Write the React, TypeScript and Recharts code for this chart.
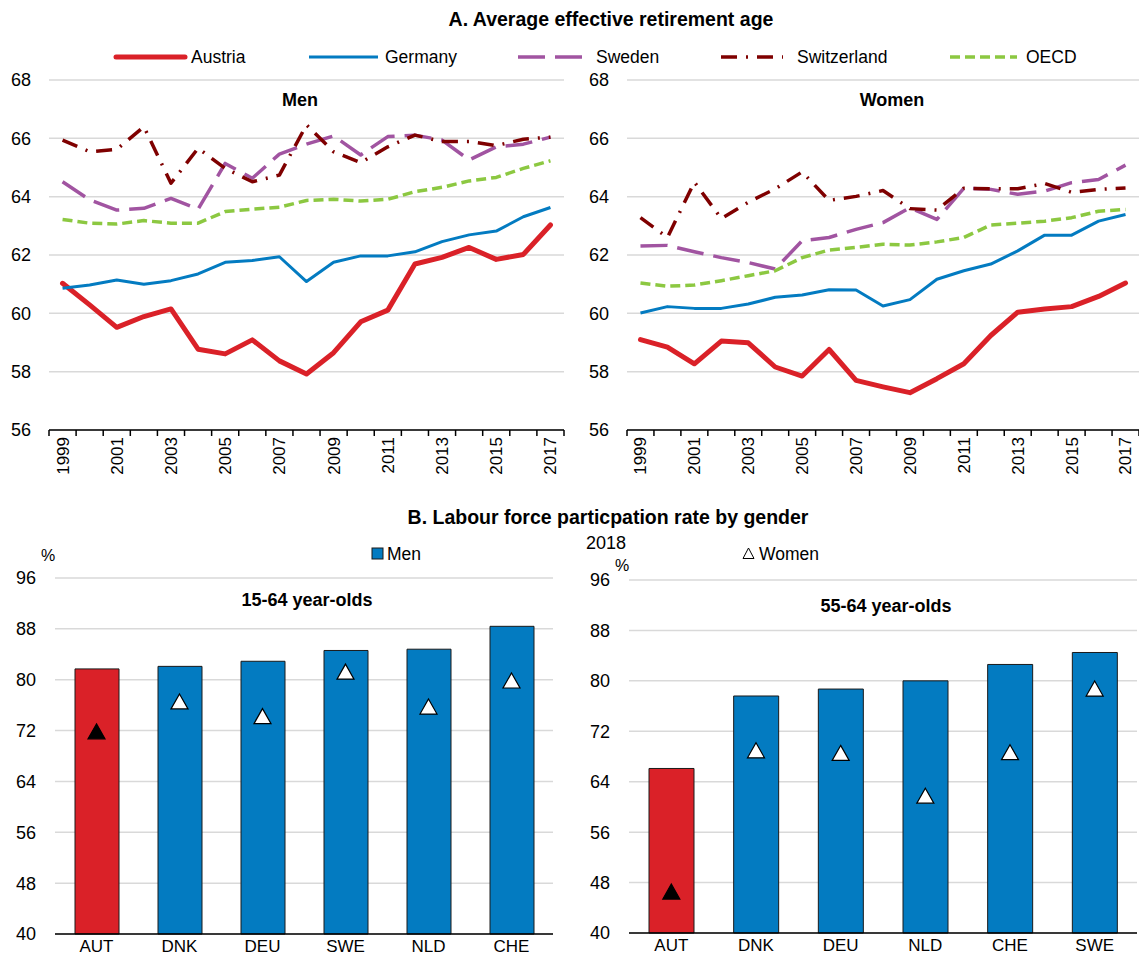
import React from "react";
import {
	Bar,
	CartesianGrid,
	Cell,
	ComposedChart,
	Line,
	LineChart,
	XAxis,
	YAxis,
} from "recharts";

const FONT = '"Liberation Sans", Arial, Helvetica, sans-serif';

// Panel A: average effective retirement age
const years = [
	1999, 2000, 2001, 2002, 2003, 2004, 2005, 2006, 2007, 2008, 2009, 2010,
	2011, 2012, 2013, 2014, 2015, 2016, 2017,
];

const menAustria = [
	61.03, 60.29, 59.52, 59.89, 60.15, 58.77, 58.61, 59.09, 58.37, 57.92, 58.65,
	59.71, 60.11, 61.69, 61.92, 62.26, 61.85, 62.02, 63.03,
];
const menGermany = [
	60.86, 60.97, 61.14, 61.0, 61.12, 61.35, 61.75, 61.81, 61.94, 61.09, 61.75,
	61.97, 61.97, 62.11, 62.46, 62.69, 62.82, 63.31, 63.63,
];
const menSweden = [
	64.51, 63.89, 63.54, 63.6, 63.94, 63.57, 65.14, 64.63, 65.46, 65.8, 66.08,
	65.43, 66.06, 66.11, 65.94, 65.26, 65.71, 65.8, 66.04,
];
const menSwitzerland = [
	65.94, 65.54, 65.62, 66.4, 64.46, 65.66, 64.97, 64.51, 64.74, 66.46, 65.54,
	65.17, 65.71, 66.11, 65.89, 65.89, 65.75, 65.97, 66.04,
];
const menOecd = [
	63.22, 63.09, 63.06, 63.18, 63.09, 63.09, 63.49, 63.57, 63.64, 63.87, 63.91,
	63.85, 63.91, 64.17, 64.32, 64.54, 64.66, 64.97, 65.23,
];

const womenAustria = [
	59.1, 58.84, 58.27, 59.05, 58.99, 58.16, 57.85, 58.76, 57.7, 57.48, 57.28,
	57.76, 58.27, 59.24, 60.04, 60.15, 60.23, 60.58, 61.04,
];
const womenGermany = [
	60.01, 60.23, 60.17, 60.17, 60.32, 60.55, 60.63, 60.81, 60.8, 60.25, 60.47,
	61.17, 61.46, 61.69, 62.14, 62.68, 62.68, 63.16, 63.39,
];
const womenSweden = [
	62.31, 62.33, 62.11, 61.91, 61.74, 61.52, 62.49, 62.6, 62.88, 63.11, 63.62,
	63.22, 64.29, 64.25, 64.08, 64.19, 64.48, 64.59, 65.08,
];
const womenSwitzerland = [
	63.28, 62.6, 64.5, 63.25, 63.81, 64.27, 64.85, 63.87, 64.01, 64.21, 63.59,
	63.54, 64.29, 64.27, 64.27, 64.45, 64.15, 64.25, 64.3,
];
const womenOecd = [
	61.04, 60.93, 60.97, 61.12, 61.29, 61.46, 61.91, 62.17, 62.26, 62.37, 62.34,
	62.45, 62.6, 63.03, 63.09, 63.16, 63.28, 63.5, 63.56,
];

const ageTicks = [56, 58, 60, 62, 64, 66, 68];

// Panel B: labour force participation rate, 2018
const countriesYoung = ["AUT", "DNK", "DEU", "SWE", "NLD", "CHE"];
const menYoung = [81.7, 82.1, 82.9, 84.6, 84.8, 88.4];
const womenYoung = [71.8, 76.5, 74.2, 81.2, 75.7, 79.8];

const countriesOld = ["AUT", "DNK", "DEU", "NLD", "CHE", "SWE"];
const menOld = [66.1, 77.6, 78.7, 80.0, 82.6, 84.5];
const womenOld = [46.5, 68.9, 68.5, 61.7, 68.6, 78.7];

const rateTicks = [40, 48, 56, 64, 72, 80, 88, 96];

const series = [
	{ key: "Austria", color: "#DA2128", width: 5, dash: undefined, men: menAustria, women: womenAustria },
	{ key: "Germany", color: "#037BC1", width: 3, dash: undefined, men: menGermany, women: womenGermany },
	{ key: "Sweden", color: "#A154A1", width: 3.5, dash: "27 10", men: menSweden, women: womenSweden },
	{ key: "Switzerland", color: "#7F0000", width: 3.5, dash: "16 9 2 9", men: menSwitzerland, women: womenSwitzerland },
	{ key: "OECD", color: "#8CC841", width: 3.5, dash: "10 5", men: menOecd, women: womenOecd },
];

const menRows = years.map((year, i) => {
	const row: Record<string, number> = { year };
	series.forEach((s) => (row[s.key] = s.men[i]));
	return row;
});
const womenRows = years.map((year, i) => {
	const row: Record<string, number> = { year };
	series.forEach((s) => (row[s.key] = s.women[i]));
	return row;
});
const youngRows = countriesYoung.map((country, i) => ({
	country,
	men: menYoung[i],
	women: womenYoung[i],
}));
const oldRows = countriesOld.map((country, i) => ({
	country,
	men: menOld[i],
	women: womenOld[i],
}));

// legend sample positions (x start, x end, text x)
const legendSlots = [
	[116, 185, 191],
	[309, 378, 385],
	[518, 590, 596],
	[721, 783, 797],
	[950, 1017, 1026],
];

const makeYearTick = (band: number) => (props: any) => {
	const { x, y, payload, index } = props;
	const half = band / 2;
	return (
		<g>
			<line x1={x - half} x2={x - half} y1={y} y2={y + 6} stroke="#000" strokeWidth={1.5} />
			{index === years.length - 1 && (
				<line x1={x + half} x2={x + half} y1={y} y2={y + 6} stroke="#000" strokeWidth={1.5} />
			)}
			{payload.value % 2 === 1 && (
				<text
					transform={`translate(${x},${y + 7}) rotate(-90)`}
					textAnchor="end"
					dy="0.35em"
					fontSize={17}
					fill="#000"
				>
					{payload.value}
				</text>
			)}
		</g>
	);
};

const renderTriangle = (props: any) => {
	const { cx, cy, index, payload } = props;
	const dark = payload.country === "AUT";
	return (
		<path
			key={`tri-${index}`}
			d={`M${cx},${cy - 8}L${cx + 8.5},${cy + 7}L${cx - 8.5},${cy + 7}Z`}
			fill={dark ? "#000" : "#fff"}
			stroke="#000"
			strokeWidth={1.2}
		/>
	);
};

const AgePanel: React.FC<{ rows: Record<string, number>[]; width: number; yWidth: number; right: number }> = ({
	rows,
	width,
	yWidth,
	right,
}) => {
	const band = (width - yWidth - right) / years.length;
	return (
		<LineChart width={width} height={420} data={rows} margin={{ top: 10, right, bottom: 0, left: 0 }}>
			<CartesianGrid horizontal vertical={false} stroke="#D9D9D9" strokeWidth={1.5} />
			<XAxis
				dataKey="year"
				interval={0}
				height={60}
				tickLine={false}
				tickSize={0}
				tickMargin={0}
				padding={{ left: band / 2, right: band / 2 }}
				axisLine={{ stroke: "#000", strokeWidth: 1.5 }}
				tick={makeYearTick(band)}
			/>
			<YAxis
				width={yWidth}
				domain={[56, 68]}
				ticks={ageTicks}
				interval={0}
				axisLine={false}
				tickLine={false}
				tickSize={0}
				tickMargin={18}
				tick={{ fill: "#000", fontSize: 18 }}
			/>
			{series.map((s) => (
				<Line
					key={s.key}
					dataKey={s.key}
					stroke={s.color}
					strokeWidth={s.width}
					strokeDasharray={s.dash}
					strokeLinecap={s.key === "Austria" ? "round" : "butt"}
					strokeLinejoin="round"
					dot={false}
					activeDot={false}
					isAnimationActive={false}
				/>
			))}
		</LineChart>
	);
};

const RatePanel: React.FC<{
	rows: any[];
	height: number;
	plotHeight: number;
	yWidth: number;
	right: number;
	barSize: number;
}> = ({ rows, height, plotHeight, yWidth, right, barSize }) => (
	<ComposedChart width={570} height={height} data={rows} margin={{ top: 10, right, bottom: 0, left: 0 }}>
		<CartesianGrid horizontal vertical={false} stroke="#D9D9D9" strokeWidth={1.5} />
		<XAxis
			dataKey="country"
			interval={0}
			height={height - 10 - plotHeight}
			tickLine={false}
			tickSize={0}
			tickMargin={6}
			axisLine={{ stroke: "#000", strokeWidth: 1.5 }}
			tick={{ fill: "#000", fontSize: 17 }}
		/>
		<YAxis
			width={yWidth}
			domain={[40, 96]}
			ticks={rateTicks}
			interval={0}
			axisLine={false}
			tickLine={false}
			tickSize={0}
			tickMargin={19}
			tick={{ fill: "#000", fontSize: 18 }}
		/>
		<Bar dataKey="men" barSize={barSize} stroke="#1a1a1a" strokeWidth={1} isAnimationActive={false}>
			{rows.map((r) => (
				<Cell key={r.country} fill={r.country === "AUT" ? "#DA2128" : "#037BC1"} />
			))}
		</Bar>
		<Line
			dataKey="women"
			stroke="none"
			dot={renderTriangle}
			activeDot={false}
			isAnimationActive={false}
		/>
	</ComposedChart>
);

const App: React.FC = () => (
	<div
		style={{
			position: "absolute",
			left: 0,
			top: 0,
			width: 1139,
			height: 957,
			overflow: "hidden",
			background: "#fff",
			fontFamily: FONT,
		}}
	>
		<div style={{ position: "absolute", left: 0, top: 70 }}>
			<AgePanel rows={menRows} width={570} yWidth={49} right={6} />
		</div>
		<div style={{ position: "absolute", left: 570, top: 70 }}>
			<AgePanel rows={womenRows} width={569} yWidth={57} right={0} />
		</div>
		<div style={{ position: "absolute", left: 0, top: 568 }}>
			<RatePanel rows={youngRows} height={389} plotHeight={356} yWidth={55} right={17} barSize={44} />
		</div>
		<div style={{ position: "absolute", left: 570, top: 570 }}>
			<RatePanel rows={oldRows} height={387} plotHeight={353} yWidth={59} right={3} barSize={45} />
		</div>
		<svg
			width={1139}
			height={957}
			style={{ position: "absolute", left: 0, top: 0, pointerEvents: "none" }}
			fontFamily={FONT}
		>
			<text x={611} y={26} textAnchor="middle" fontSize={19.5} fontWeight="bold">
				A. Average effective retirement age
			</text>
			{series.map((s, i) => {
				const [x1, x2, tx] = legendSlots[i];
				return (
					<g key={s.key}>
						<line
							x1={x1}
							x2={x2}
							y1={57}
							y2={57}
							stroke={s.color}
							strokeWidth={s.width}
							strokeDasharray={s.dash}
							strokeLinecap={s.key === "Austria" ? "round" : "butt"}
						/>
						<text x={tx} y={63} fontSize={17.5}>
							{s.key}
						</text>
					</g>
				);
			})}
			<text x={300} y={106} textAnchor="middle" fontSize={18} fontWeight="bold">
				Men
			</text>
			<text x={892} y={106} textAnchor="middle" fontSize={18} fontWeight="bold">
				Women
			</text>

			<text x={608} y={524} textAnchor="middle" fontSize={19.5} fontWeight="bold">
				B. Labour force particpation rate by gender
			</text>
			<text x={586} y={549} fontSize={18}>
				2018
			</text>
			<text x={41} y={561} fontSize={16}>
				%
			</text>
			<text x={615} y={571} fontSize={16}>
				%
			</text>
			<rect x={372} y={548} width={11} height={11} fill="#037BC1" stroke="#1a1a1a" strokeWidth={1} />
			<text x={387} y={560} fontSize={17.5}>
				Men
			</text>
			<path d="M748.5,548L754,558.5L743,558.5Z" fill="#fff" stroke="#000" strokeWidth={1} />
			<text x={759} y={560} fontSize={17.5}>
				Women
			</text>
			<text x={307} y={606} textAnchor="middle" fontSize={18} fontWeight="bold">
				15-64 year-olds
			</text>
			<text x={886} y={612} textAnchor="middle" fontSize={18} fontWeight="bold">
				55-64 year-olds
			</text>
		</svg>
	</div>
);

export default App;
